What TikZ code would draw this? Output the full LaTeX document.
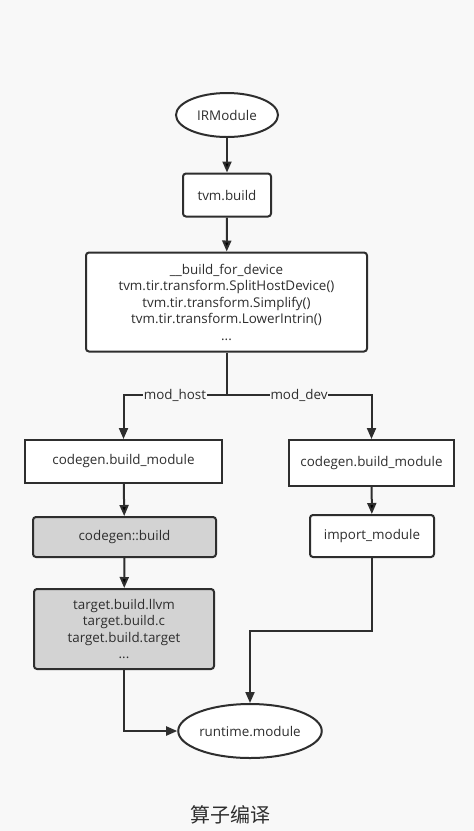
\documentclass[tikz,border=0pt]{standalone}
\usepackage{fontspec}
\setmainfont{Open Sans}
\newfontfamily\cjk{Noto Sans CJK SC}
\usepackage{tikz}
\usetikzlibrary{arrows.meta,shapes.geometric,positioning}
\definecolor{ink}{HTML}{2E2E2E}
\definecolor{paper}{HTML}{F8F8F8}
\definecolor{shade}{HTML}{D3D3D3}

\begin{document}
\begin{tikzpicture}[x=1pt,y=-1pt,line width=2pt]
  \tikzstyle{every node}=[font=\fontsize{13.4}{16.5}\selectfont,text=ink]
  \tikzstyle{flow}=[draw=ink,-{Triangle[length=11pt,width=9pt]}]
  \tikzstyle{oval}=[ellipse,draw=ink,fill=white,inner sep=0pt]
  \tikzstyle{step box}=[rectangle,rounded corners=3pt,draw=ink,fill=white,align=center,inner sep=0pt]
  \tikzstyle{flat box}=[rectangle,draw=ink,fill=white,inner sep=0pt]
  \tikzstyle{tag}=[fill=paper,inner sep=1pt]

  \fill[paper] (0,0) rectangle (474,831);

  \node[oval,minimum width=102pt,minimum height=44pt] (ir) at (227,115) {IRModule};
  \node[step box,minimum width=88pt,minimum height=43pt] (build) at (227,195) {tvm.build};
  \node[step box,minimum width=281pt,minimum height=99pt] (dev) at (226.5,302)
       {\_\_build\_for\_device\\tvm.tir.transform.SplitHostDevice()\\tvm.tir.transform.Simplify()\\tvm.tir.transform.LowerIntrin()\\...};
  \coordinate (fork) at (226.5,395);

  \node[flat box,minimum width=197pt,minimum height=43pt] (hostgen) at (123.5,461.5) {codegen.build\_module};
  \node[step box,fill=shade,minimum width=183pt,minimum height=40pt] (cgbuild) at (124.5,537) {codegen::build};
  \node[step box,fill=shade,minimum width=180pt,minimum height=80pt] (target) at (124,629)
       {target.build.llvm\\target.build.c\\target.build.target\\...};

  \node[flat box,minimum width=165pt,minimum height=46pt] (devgen) at (371.5,463) {codegen.build\_module};
  \node[step box,minimum width=124pt,minimum height=42pt] (import) at (372,536) {import\_module};
  \coordinate (join) at (250,631);

  \node[oval,minimum width=141pt,minimum height=54pt] (rt) at (250,731) {runtime.module};

  \node (caption) at (230,815) {\cjk\fontsize{20}{24}\selectfont 算子编译};

  \path[flow] (ir) edge (build)
        (build) edge (dev)
        (hostgen) edge (cgbuild)
        (cgbuild) edge (target)
        (devgen) edge (import);
  \draw[ink] (dev) -- (fork);
  \draw[flow] (fork) -| node[tag,pos=0.25] {mod\_host} (hostgen);
  \draw[flow] (fork) -| node[tag,pos=0.25] {mod\_dev} (devgen);
  \draw[flow] (target) |- (rt);
  \draw[flow] (import) |- (join) -- (rt);
\end{tikzpicture}
\end{document}
